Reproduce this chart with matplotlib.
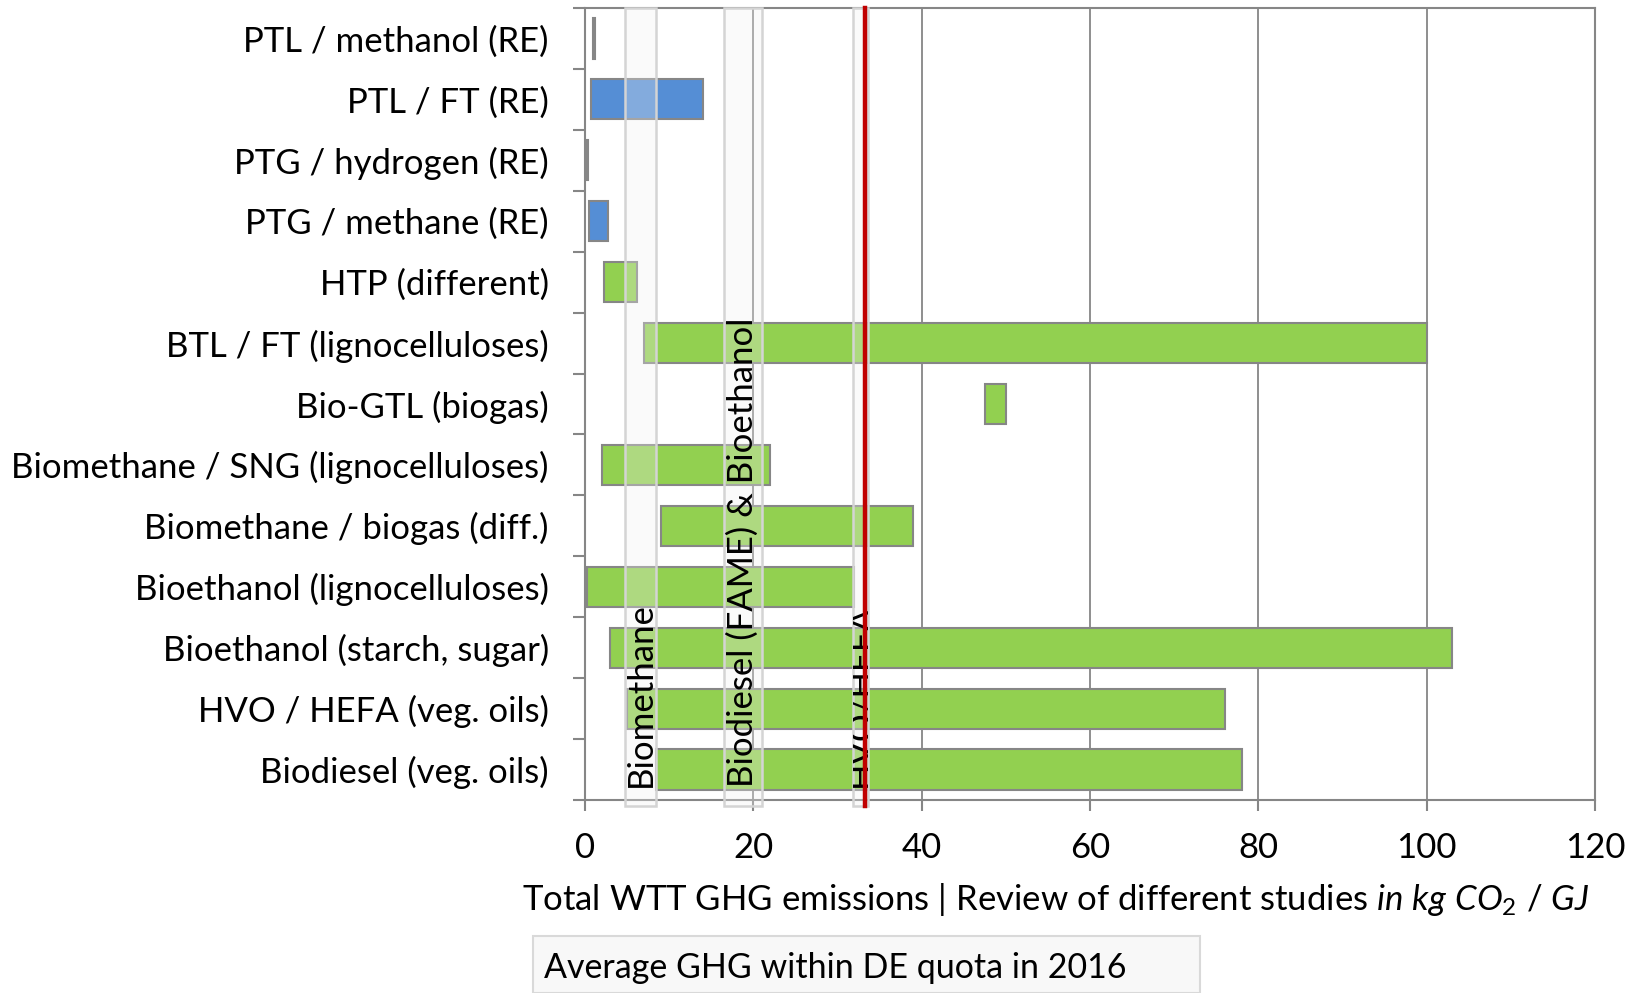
import matplotlib
matplotlib.use("Agg")
import matplotlib.pyplot as plt
from matplotlib.patches import Rectangle
from matplotlib.transforms import Bbox, TransformedBbox

plt.rcParams['font.family'] = ['Lato', 'DejaVu Sans']
plt.rcParams['mathtext.fontset'] = 'custom'
plt.rcParams['mathtext.rm'] = 'Lato'
plt.rcParams['mathtext.it'] = 'Lato:italic'

categories = ["PTL / methanol (RE)", "PTL / FT (RE)", "PTG / hydrogen (RE)",
              "PTG / methane (RE)", "HTP (different)", "BTL / FT (lignocelluloses)",
              "Bio-GTL (biogas)", "Biomethane / SNG (lignocelluloses)",
              "Biomethane / biogas (diff.)", "Bioethanol (lignocelluloses)",
              "Bioethanol (starch, sugar)", "HVO / HEFA (veg. oils)",
              "Biodiesel (veg. oils)"]
low = [1.0, 0.7, 0.15, 0.5, 2.2, 7.0, 47.5, 2.0, 9.0, 0.2, 3.0, 5.0, 8.4]
high = [1.2, 14.0, 0.35, 2.7, 6.2, 100.0, 50.0, 22.0, 39.0, 32.0, 103.0, 76.0, 78.0]
source = ["RE", "RE", "RE", "RE", "bio", "bio", "bio", "bio", "bio", "bio", "bio", "bio", "bio"]

band_names = ["Biomethane", "Biodiesel (FAME) & Bioethanol", "HVO/HEFA"]
band_lo = [4.8, 16.5, 31.8]
band_hi = [8.4, 21.0, 33.6]
quota_avg = 33.3

xticks = [0, 20, 40, 60, 80, 100, 120]

colors = {"RE": "#558ED5", "bio": "#92D050"}
gray = "#868686"
FS = 25

fig = plt.figure(figsize=(16.4, 9.93), dpi=100)
ax = fig.add_axes([585/1640, 1-800/993, (1595-585)/1640, (800-8)/993])

n = len(categories)
ypos = list(range(n))
widths = [h - l for l, h in zip(low, high)]
ax.barh(ypos, widths, left=low, height=0.66,
        color=[colors[s] for s in source], edgecolor=gray, linewidth=1.5, zorder=3)

ax.set_xlim(0, 120)
ax.set_ylim(n - 0.5, -0.5)

# grid
for x in xticks[1:-1]:
    ax.axvline(x, color=gray, lw=1.3, zorder=1)

# bands
for name, lo, hi in zip(band_names, band_lo, band_hi):
    r = Rectangle((lo, -0.5), hi - lo, n + 0.1, facecolor=(0.94, 0.94, 0.94, 0.3),
                  edgecolor="#d4d4d4", linewidth=1.8, zorder=4, clip_on=False)
    ax.add_patch(r)
    t = ax.text((lo + hi) / 2, n - 0.72, name, rotation=90, ha='left', va='center',
                fontsize=FS, color='black', zorder=5, rotation_mode='anchor')
    t.set_clip_box(TransformedBbox(Bbox([[lo, -0.5], [hi, n - 0.4]]), ax.transData))
    t.set_clip_on(True)

ax.axvline(quota_avg, ymin=-0.008, ymax=1, color="#C00000", lw=3.2, zorder=6, clip_on=False)

# axes styling
for s in ax.spines.values():
    s.set_color(gray)
    s.set_linewidth(1.5)
ax.set_xticks(xticks)
ax.set_xticklabels([str(v) for v in xticks], fontsize=FS)
ax.tick_params(axis='x', length=8, width=1.5, color=gray, pad=15)

ax.set_yticks([i - 0.5 for i in range(n + 1)])
ax.set_yticklabels([])
ax.tick_params(axis='y', which='major', length=9, width=1.5, color=gray)
ax.set_yticks(ypos, minor=True)
ax.set_yticklabels(categories, minor=True, fontsize=FS)
ax.tick_params(axis='y', which='minor', length=0, pad=26)

fig.text(1056/1640, 1-900/993,
         r"Total WTT GHG emissions | Review of different studies $in\ kg\ CO_2\ /\ GJ$",
         ha='center', va='center', fontsize=FS)

# legend box
fig.patches.append(Rectangle((533/1640, 0), (1200-533)/1640, (993-936)/993,
                             transform=fig.transFigure, facecolor="#F8F8F8",
                             edgecolor="#D9D9D9", linewidth=1.5))
fig.text(544/1640, 1-968/993, "Average GHG within DE quota in 2016",
         ha='left', va='center', fontsize=24.5)

fig.savefig("out.png", dpi=100)
